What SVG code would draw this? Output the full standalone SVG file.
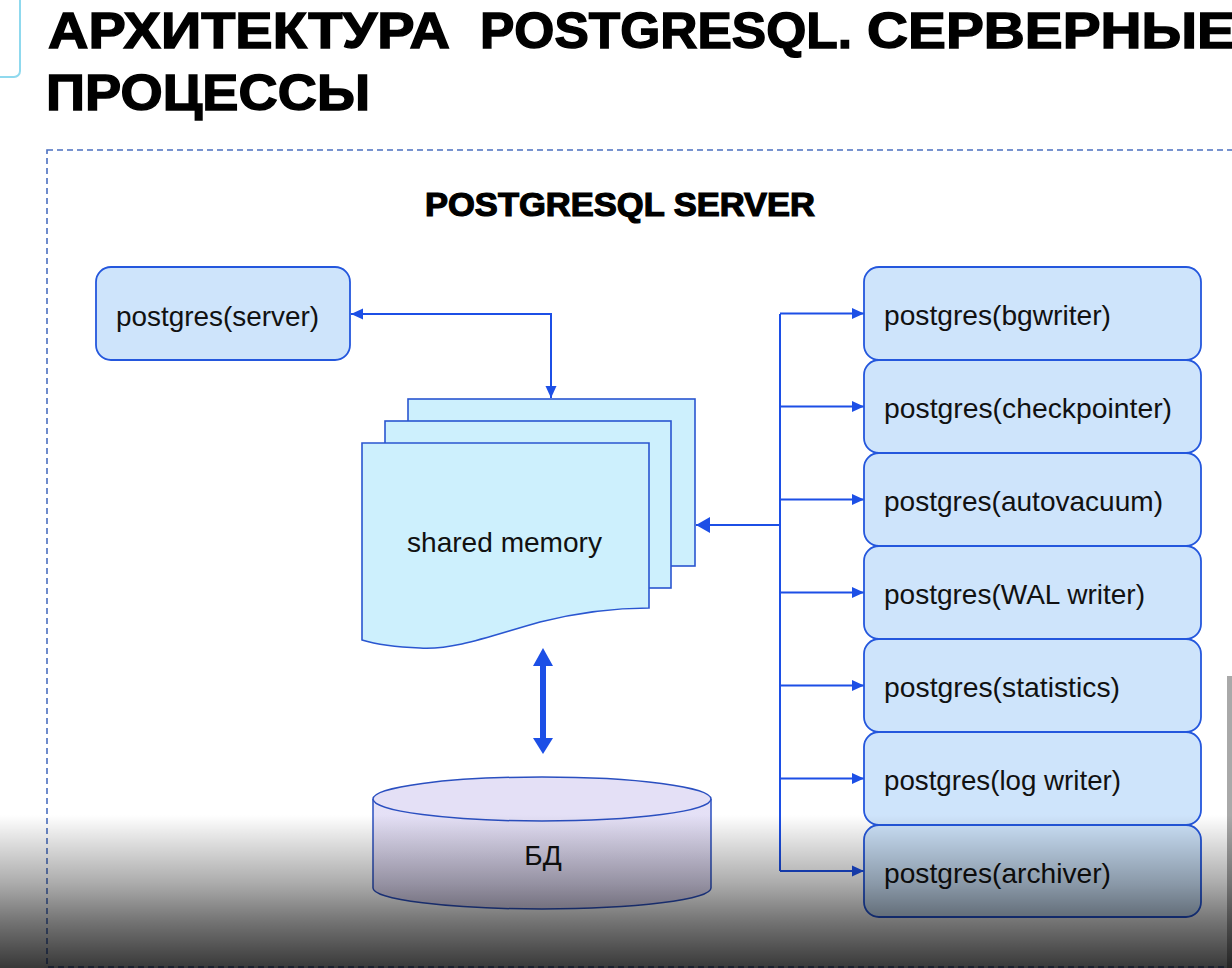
<svg xmlns="http://www.w3.org/2000/svg" width="1232" height="968" viewBox="0 0 1232 968">
<style>
.title{font-family:"Liberation Sans",Arial,sans-serif;font-weight:bold;fill:#000;stroke:#000;stroke-width:1.4;}
.lbl{font-family:"Liberation Sans",Arial,sans-serif;font-size:28px;fill:#111;}
.proc{fill:#cee4fb;stroke:#2457dd;stroke-width:1.8;}
.page{fill:#cdf0fd;stroke:#2a56d0;stroke-width:1.6;}
.conn{fill:none;stroke:#1c4fe6;stroke-width:2;}
</style>
<defs>
<marker id="arr" markerUnits="userSpaceOnUse" markerWidth="13" markerHeight="12" refX="12" refY="6" orient="auto-start-reverse" viewBox="0 0 13 12">
<path d="M0,0.5 L12,6 L0,11.5 z" fill="#1c4fe6"/>
</marker>
<marker id="arrL" markerUnits="userSpaceOnUse" markerWidth="15" markerHeight="16" refX="14" refY="8" orient="auto" viewBox="0 0 15 16">
<path d="M0,0 L14,8 L0,16 z" fill="#1c4fe6"/>
</marker>
<linearGradient id="cyl" x1="0" y1="0" x2="0" y2="1">
<stop offset="0" stop-color="#e6e2f7"/>
<stop offset="1" stop-color="#dcd6f0"/>
</linearGradient>
<linearGradient id="shade" x1="0" y1="0" x2="0" y2="1">
<stop offset="0" stop-color="#000" stop-opacity="0"/>
<stop offset="0.45" stop-color="#000" stop-opacity="0.33"/>
<stop offset="0.7" stop-color="#000" stop-opacity="0.55"/>
<stop offset="1" stop-color="#000" stop-opacity="0.78"/>
</linearGradient>
</defs>
<rect x="0" y="0" width="1232" height="968" fill="#ffffff"/>
<rect x="-20" y="-20" width="40" height="97" rx="6" fill="none" stroke="#8fd9ee" stroke-width="2"/>
<g id="title">
<text class="title" font-size="50" y="48"><tspan x="48" textLength="402" lengthAdjust="spacingAndGlyphs">АРХИТЕКТУРА</tspan></text>
<text class="title" font-size="50" y="48"><tspan x="480" textLength="372" lengthAdjust="spacingAndGlyphs">POSTGRESQL.</tspan></text>
<text class="title" font-size="50" y="48"><tspan x="867" textLength="368" lengthAdjust="spacingAndGlyphs">СЕРВЕРНЫЕ</tspan></text>
<text class="title" font-size="50" y="110"><tspan x="46" textLength="324" lengthAdjust="spacingAndGlyphs">ПРОЦЕССЫ</tspan></text>
</g>
<rect id="server-frame" x="47" y="150" width="1210" height="817" fill="none" stroke="#4a6fc0" stroke-width="1.6" stroke-dasharray="6 4"/>
<text class="title" font-size="33" y="216" style="stroke-width:1.2"><tspan x="425" textLength="390" lengthAdjust="spacingAndGlyphs">POSTGRESQL SERVER</tspan></text>

<g id="connectors">
<path class="conn" d="M351,314 H551 V398" marker-start="url(#arr)" marker-end="url(#arr)"/>
<path class="conn" d="M780,314 V871"/>
<path class="conn" d="M780,313.5 H864" marker-end="url(#arr)"/>
<path class="conn" d="M780,406.5 H864" marker-end="url(#arr)"/>
<path class="conn" d="M780,499.5 H864" marker-end="url(#arr)"/>
<path class="conn" d="M780,592.5 H864" marker-end="url(#arr)"/>
<path class="conn" d="M780,685.5 H864" marker-end="url(#arr)"/>
<path class="conn" d="M780,778.5 H864" marker-end="url(#arr)"/>
<path class="conn" d="M780,871 H864" marker-end="url(#arr)"/>
<path class="conn" d="M780,525 H696" stroke-width="2.8" marker-end="url(#arrL)"/>
<path d="M543,648 L553,666 L546,666 L546,738 L553,738 L543,754 L533,738 L540,738 L540,666 L533,666 Z" fill="#1c4fe6"/>
</g>

<g id="postgres-server">
<rect class="proc" x="96" y="267" width="254" height="93" rx="15"/>
<text class="lbl" x="116" y="326" textLength="203" lengthAdjust="spacingAndGlyphs">postgres(server)</text>
</g>

<g id="shared-memory">
<rect class="page" x="408" y="399" width="287" height="167"/>
<rect class="page" x="385" y="421" width="286" height="167"/>
<path class="page" d="M362,443 H649 V608 C620,608 580,612 540,622 C490,636 455,650 420,648 C395,647 375,644 362,640 Z"/>
<text class="lbl" x="407" y="552" textLength="195" lengthAdjust="spacingAndGlyphs">shared memory</text>
</g>

<g id="db">
<path d="M373,799 V888 A169,21 0 0 0 711,888 V799" fill="url(#cyl)" stroke="#2a4fc0" stroke-width="1.5"/>
<ellipse cx="542" cy="799" rx="169" ry="22" fill="#e4e0f6" stroke="#2a4fc0" stroke-width="1.5"/>
<text class="lbl" x="543" y="865" text-anchor="middle">БД</text>
</g>

<g id="bgwriter">
<rect class="proc" x="864" y="267" width="337" height="93" rx="15"/>
<text class="lbl" x="884" y="325" textLength="227" lengthAdjust="spacingAndGlyphs">postgres(bgwriter)</text>
</g>
<g id="checkpointer">
<rect class="proc" x="864" y="360" width="337" height="93" rx="15"/>
<text class="lbl" x="884" y="418" textLength="288" lengthAdjust="spacingAndGlyphs">postgres(checkpointer)</text>
</g>
<g id="autovacuum">
<rect class="proc" x="864" y="453" width="337" height="93" rx="15"/>
<text class="lbl" x="884" y="511" textLength="279" lengthAdjust="spacingAndGlyphs">postgres(autovacuum)</text>
</g>
<g id="walwriter">
<rect class="proc" x="864" y="546" width="337" height="93" rx="15"/>
<text class="lbl" x="884" y="604" textLength="261" lengthAdjust="spacingAndGlyphs">postgres(WAL writer)</text>
</g>
<g id="statistics">
<rect class="proc" x="864" y="639" width="337" height="93" rx="15"/>
<text class="lbl" x="884" y="697" textLength="236" lengthAdjust="spacingAndGlyphs">postgres(statistics)</text>
</g>
<g id="logwriter">
<rect class="proc" x="864" y="732" width="337" height="93" rx="15"/>
<text class="lbl" x="884" y="790" textLength="237" lengthAdjust="spacingAndGlyphs">postgres(log writer)</text>
</g>
<g id="archiver">
<rect class="proc" x="864" y="825" width="337" height="92" rx="15"/>
<text class="lbl" x="884" y="883" textLength="227" lengthAdjust="spacingAndGlyphs">postgres(archiver)</text>
</g>

<rect x="1227" y="676" width="5" height="292" fill="#a9a9a9"/>
<rect x="0" y="815" width="1232" height="153" fill="url(#shade)"/>
</svg>
